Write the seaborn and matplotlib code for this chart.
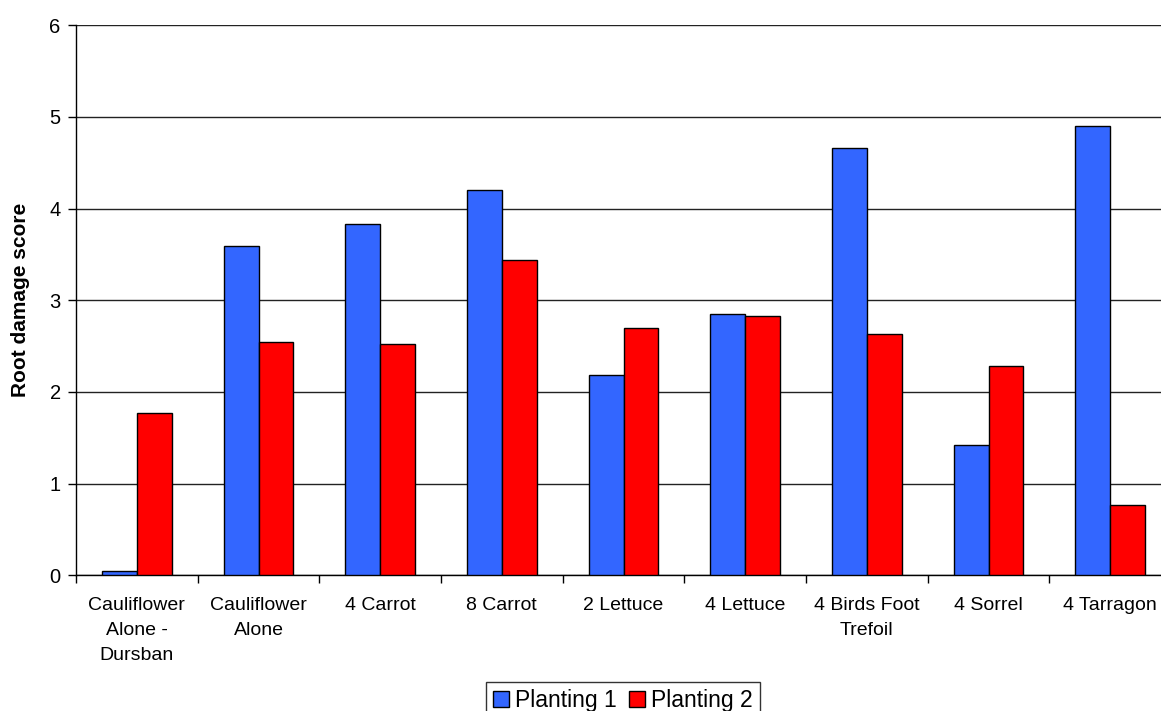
import numpy as np
import pandas as pd
import matplotlib
matplotlib.use("Agg")
import matplotlib.pyplot as plt
import seaborn as sns
from matplotlib.ticker import FixedLocator, NullFormatter

categories = ["Cauliflower\nAlone -\nDursban", "Cauliflower\nAlone", "4 Carrot", "8 Carrot",
              "2 Lettuce", "4 Lettuce", "4 Birds Foot\nTrefoil", "4 Sorrel", "4 Tarragon"]
planting1 = [0.05, 3.59, 3.83, 4.20, 2.18, 2.85, 4.66, 1.42, 4.90]
planting2 = [1.77, 2.54, 2.52, 3.44, 2.70, 2.83, 2.63, 2.28, 0.77]
series_names = ["Planting 1", "Planting 2"]
colors = ["#3366FF", "#FF0000"]
y_ticks = [0, 1, 2, 3, 4, 5, 6]

df = pd.DataFrame({
    "category": categories * 2,
    "value": planting1 + planting2,
    "series": [series_names[0]] * len(categories) + [series_names[1]] * len(categories),
})

sns.set_theme(style="white")
plt.rcParams["font.family"] = ["Liberation Sans", "DejaVu Sans"]
plt.rcParams["text.color"] = "black"
plt.rcParams["axes.labelcolor"] = "black"
plt.rcParams["xtick.color"] = "black"
plt.rcParams["ytick.color"] = "black"

fig = plt.figure(figsize=(11.61, 7.11), dpi=100)
ax = fig.add_axes([76 / 1161, 1 - 575.2 / 711, (1171 - 76) / 1161, (575.2 - 25.3) / 711])

sns.barplot(data=df, x="category", y="value", hue="series", order=categories,
            hue_order=series_names, palette=colors, width=0.572, gap=0,
            edgecolor="black", linewidth=1.0, saturation=1, ax=ax, zorder=3)

ax.set_ylim(0, 6)
ax.set_xlim(-0.5, len(categories) - 0.5)
ax.set_yticks(y_ticks)
ax.set_yticklabels([str(t) for t in y_ticks], fontsize=14.5, color="black")
ax.yaxis.grid(True, color="#222222", linewidth=1.0, zorder=0)
ax.xaxis.grid(False)
ax.set_axisbelow(True)

# category labels at centers (minor), tick marks at boundaries (major)
ax.xaxis.set_major_locator(FixedLocator(np.arange(-0.5, len(categories), 1.0)))
ax.xaxis.set_major_formatter(NullFormatter())
ax.xaxis.set_minor_locator(FixedLocator(np.arange(len(categories))))
ax.set_xticklabels(categories, minor=True, fontsize=14, linespacing=1.63, color="black")
ax.tick_params(axis="x", which="major", direction="out", length=6, width=1, color="black", bottom=True)
ax.tick_params(axis="x", which="minor", length=0, pad=15.5, bottom=True)
ax.tick_params(axis="y", which="major", direction="out", length=6, width=1, color="black", left=True, pad=5)

ax.set_xlabel("")
ax.set_ylabel("Root damage score", fontsize=15, fontweight="bold", labelpad=14, color="black")

for side in ["top", "right"]:
    ax.spines[side].set_visible(False)
for side in ["left", "bottom"]:
    ax.spines[side].set_visible(True)
    ax.spines[side].set_color("black")
    ax.spines[side].set_linewidth(1.0)

handles, labels = ax.get_legend_handles_labels()
leg = ax.legend(handles, labels, loc="upper center", bbox_to_anchor=(623 / 1161, 1 - 682 / 711),
                bbox_transform=fig.transFigure, ncol=2, fontsize=16.5, frameon=True, fancybox=False,
                handlelength=0.7, handleheight=0.7, handletextpad=0.25, columnspacing=0.55,
                borderpad=0.3, borderaxespad=0)
leg.get_frame().set_edgecolor("black")
leg.get_frame().set_linewidth(1.0)
for t in leg.get_texts():
    t.set_color("black")

fig.savefig("out.png", dpi=100)
